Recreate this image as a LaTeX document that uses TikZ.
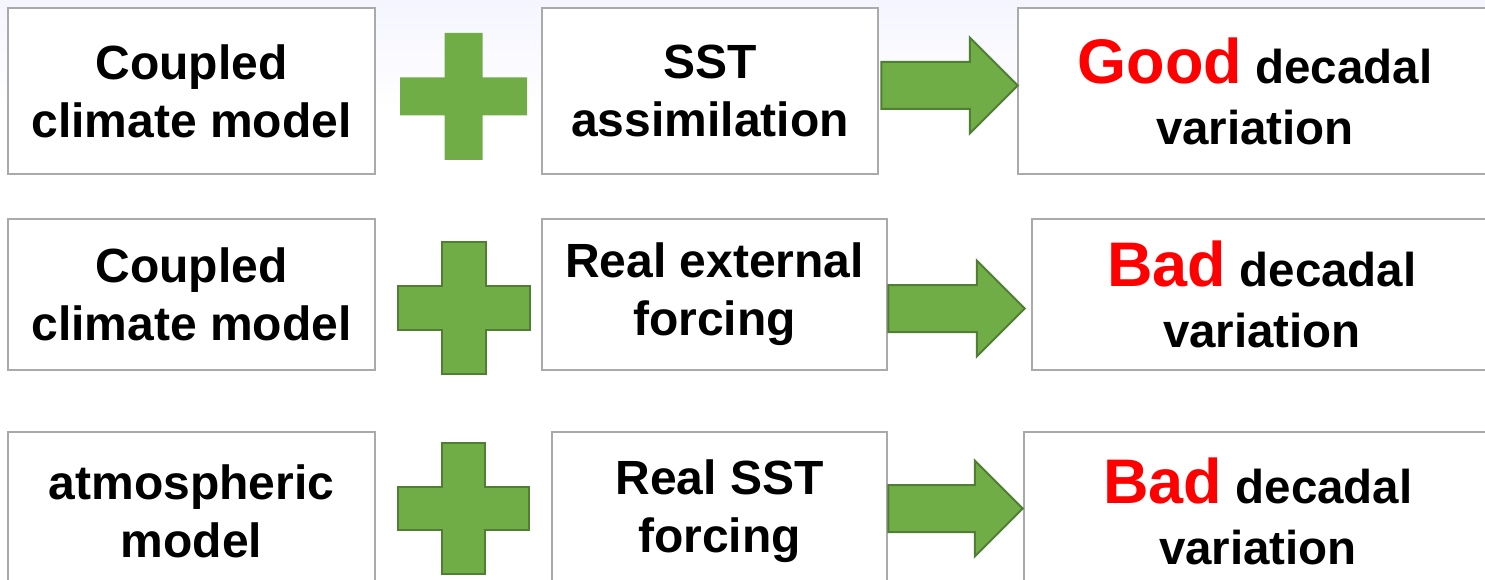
\documentclass[tikz,border=0pt]{standalone}
\usepackage{fontspec}
\setmainfont{Liberation Sans}
\usetikzlibrary{calc}
\definecolor{boxgray}{RGB}{170,170,170}
\definecolor{plusgreen}{RGB}{112,173,71}
\definecolor{darkgreen}{RGB}{80,126,50}
\newcommand{\plussign}[4][]{%
  \draw [plus,#1] ($(#2)+(-#4,-#3)$) -- ($(#2)+(#4,-#3)$) -- ($(#2)+(#4,-#4)$)
    -- ($(#2)+(#3,-#4)$) -- ($(#2)+(#3,#4)$) -- ($(#2)+(#4,#4)$)
    -- ($(#2)+(#4,#3)$) -- ($(#2)+(-#4,#3)$) -- ($(#2)+(-#4,#4)$)
    -- ($(#2)+(-#3,#4)$) -- ($(#2)+(-#3,-#4)$) -- ($(#2)+(-#4,-#4)$) -- cycle;}
\newcommand{\blockarrow}[2]{%
  \draw [fatarrow] ($(#1)+(0,-23.5)$) -- ($(#2)+(-48,-23.5)$) -- ($(#2)+(-48,-48)$)
    -- (#2) -- ($(#2)+(-48,48)$) -- ($(#2)+(-48,23.5)$) -- ($(#1)+(0,23.5)$) -- cycle;}
\newcommand{\good}{\textcolor{red}{\fontsize{63}{60}\selectfont Good}}
\newcommand{\bad}{\textcolor{red}{\fontsize{63}{60}\selectfont Bad}}

\begin{document}
\begin{tikzpicture}[x=1pt,y=-1pt,
        box/.style={
          draw=boxgray,line width=2.5pt,fill=white,inner sep=0pt,align=center,
          font=\bfseries\fontsize{48}{58}\selectfont
        },
        result/.style={
          box,font=\bfseries\fontsize{47.5}{61}\selectfont
        },
        plus/.style={
          fill=plusgreen,draw=darkgreen,line width=2pt
        },
        fatarrow/.style={
          fill=plusgreen,draw=darkgreen,line width=2pt,line join=miter
        }
      ]
      \useasboundingbox (0,0) rectangle (1485,580);
      \fill [top color=blue!4, bottom color=white] (0,0) rectangle (1485,110);

      \node [box, minimum width=367, minimum height=166] (a1) at (191.5,91) {Coupled\\climate model};
      \node [box, minimum width=336, minimum height=166] (b1) at (710,91) {SST\\assimilation};
      \node [result, minimum width=474, minimum height=166] (c1) at (1255,91) {\good{} decadal\\variation};

      \node [box, minimum width=367, minimum height=151] (a2) at (191.5,294.5) {Coupled\\climate model};
      \node [box, minimum width=345, minimum height=151] (b2) at (714.5,294.5) {Real external\\forcing};
      \node [result, minimum width=460, minimum height=151] (c2) at (1262,294.5) {\bad{} decadal\\variation};

      \node [box, minimum width=367, minimum height=158] (a3) at (191.5,511) {atmospheric\\model};
      \node [box, minimum width=335, minimum height=158] (b3) at (719.5,511) {Real SST\\forcing};
      \node [result, minimum width=468, minimum height=158] (c3) at (1258,511) {\bad{} decadal\\variation};

      \coordinate (p1) at (463.5,96.5);
      \coordinate (p2) at (463.5,308);
      \coordinate (p3) at (463,508);
      \plussign[draw=none]{p1}{63.5}{19}
      \plussign{p2}{66}{22}
      \plussign{p3}{65.5}{21.5}

      \blockarrow{$(b1.east)+(2,-5.5)$}{$(c1.west)+(1,-5.5)$}
      \blockarrow{$(b2.east)+(0,14)$}{$(c2.west)+(-6,14)$}
      \blockarrow{$(b3.east)+(0,-2.5)$}{$(c3.west)+(0,-2.5)$}
    \end{tikzpicture}
\end{document}
